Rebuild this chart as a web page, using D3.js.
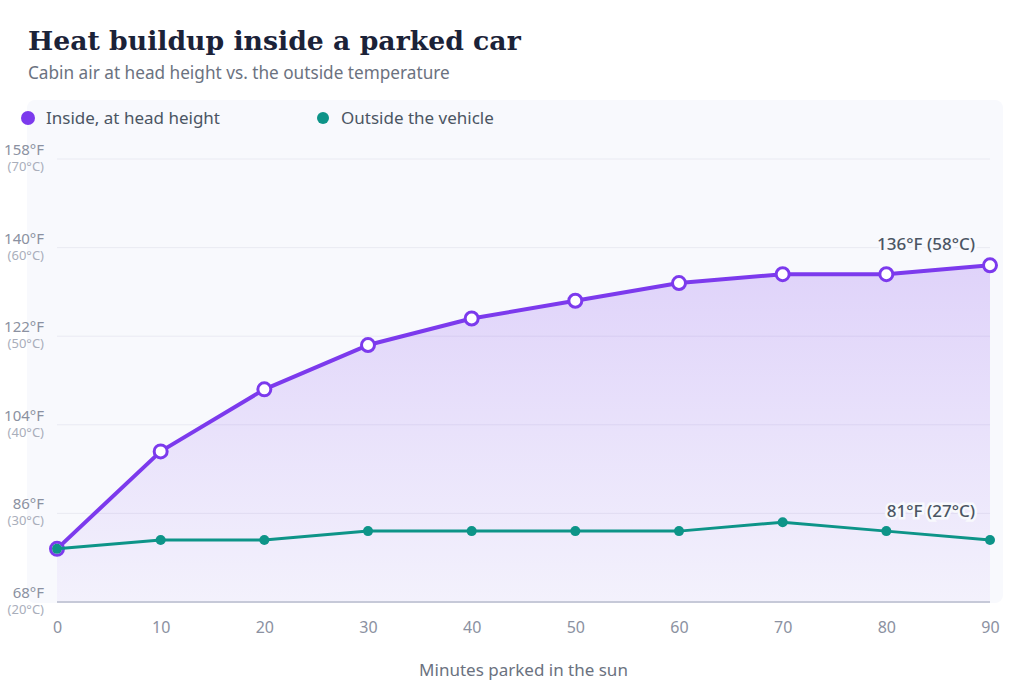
<!DOCTYPE html>
<html>
<head>
<meta charset="utf-8">
<script src="https://cdn.jsdelivr.net/npm/d3@7"></script>
<style>
  body { margin: 0; background: #fff; }
  svg { display: block; font-family: "Noto Sans", "Open Sans", sans-serif; }
</style>
</head>
<body>
<svg id="chart" width="1024" height="693"></svg>
<script>
// minutes parked
const minutes = [0, 10, 20, 30, 40, 50, 60, 70, 80, 90];
// temperatures in °C
const insideC = [26, 37, 44, 49, 52, 54, 56, 57, 57, 58];
const outsideC = [26, 27, 27, 28, 28, 28, 28, 29, 28, 27];
// y ticks in °C
const tickC = [20, 30, 40, 50, 60, 70];

const toF = c => c * 9 / 5 + 32;

const margin = {top: 159, right: 34, bottom: 91, left: 57},
    width = 1024 - margin.left - margin.right,
    height = 693 - margin.top - margin.bottom;

const svg = d3.select("#chart");

// panel background
svg.append("rect")
    .attr("x", 27).attr("y", 100)
    .attr("width", 976).attr("height", 503)
    .attr("rx", 8)
    .attr("fill", "#f8f9fd");

// title + subtitle
svg.append("text")
    .attr("x", 28).attr("y", 50)
    .attr("font-family", "'DejaVu Serif', serif")
    .attr("font-weight", "bold")
    .attr("font-size", 26.7)
    .attr("fill", "#1b2238")
    .text("Heat buildup inside a parked car");

svg.append("text")
    .attr("x", 28).attr("y", 79)
    .attr("font-size", 17.2)
    .attr("fill", "#6b7280")
    .text("Cabin air at head height vs. the outside temperature");

// legend
const legend = [
    {label: "Inside, at head height", color: "#7c3aed", x: 28, r: 7},
    {label: "Outside the vehicle", color: "#0d9488", x: 323, r: 6}
];
legend.forEach(l => {
    svg.append("circle").attr("cx", l.x).attr("cy", 118).attr("r", l.r).attr("fill", l.color);
    svg.append("text")
        .attr("x", l.x + 18).attr("y", 124)
        .attr("font-size", 17)
        .attr("fill", "#4b5563")
        .text(l.label);
});

const g = svg.append("g")
    .attr("transform", `translate(${margin.left},${margin.top})`);

const x = d3.scaleLinear().domain([0, 90]).range([0, width]);
const y = d3.scaleLinear().domain([toF(20), toF(70)]).range([height, 0]);

// gradient for area
const defs = svg.append("defs");
const grad = defs.append("linearGradient")
    .attr("id", "areaGrad")
    .attr("x1", 0).attr("y1", 0).attr("x2", 0).attr("y2", 1);
grad.append("stop").attr("offset", "0%").attr("stop-color", "#7c3aed").attr("stop-opacity", 0.2);
grad.append("stop").attr("offset", "100%").attr("stop-color", "#7c3aed").attr("stop-opacity", 0.04);

// gridlines
g.selectAll(".grid")
    .data(tickC.slice(1))
    .join("line")
    .attr("class", "grid")
    .attr("x1", 0).attr("x2", width)
    .attr("y1", d => y(toF(d))).attr("y2", d => y(toF(d)))
    .attr("stroke", "#e9eaf2")
    .attr("stroke-width", 1);

const inside = minutes.map((m, i) => ({m, f: toF(insideC[i])}));
const outside = minutes.map((m, i) => ({m, f: toF(outsideC[i])}));

// area under inside line
g.append("path")
    .datum(inside)
    .attr("fill", "url(#areaGrad)")
    .attr("d", d3.area().x(d => x(d.m)).y0(height).y1(d => y(d.f)));

// baseline
g.append("line")
    .attr("x1", 0).attr("x2", width)
    .attr("y1", height).attr("y2", height)
    .attr("stroke", "#c6c9d8")
    .attr("stroke-width", 2);

// y tick labels
const yt = g.selectAll(".ytick")
    .data(tickC)
    .join("g")
    .attr("class", "ytick")
    .attr("transform", d => `translate(-13,${y(toF(d))})`);
yt.append("text")
    .attr("text-anchor", "end")
    .attr("y", -4)
    .attr("font-size", 15)
    .attr("fill", "#8b91a1")
    .text(d => Math.round(toF(d)) + "°F");
yt.append("text")
    .attr("text-anchor", "end")
    .attr("y", 12)
    .attr("font-size", 13)
    .attr("fill", "#a9aebb")
    .text(d => "(" + d + "°C)");

// x axis
const xAxis = g.append("g")
    .attr("transform", `translate(0,${height})`)
    .call(d3.axisBottom(x).tickValues(minutes).tickSize(0).tickPadding(20));
xAxis.select(".domain").remove();
xAxis.selectAll("text")
    .attr("font-size", 16)
    .attr("font-family", "'Noto Sans', sans-serif")
    .attr("fill", "#8b91a1");

svg.append("text")
    .attr("x", margin.left + width / 2).attr("y", 676)
    .attr("text-anchor", "middle")
    .attr("font-size", 17)
    .attr("fill", "#6b7280")
    .text("Minutes parked in the sun");

// lines
const line = d3.line().x(d => x(d.m)).y(d => y(d.f));

g.append("path")
    .datum(inside)
    .attr("fill", "none")
    .attr("stroke", "#7c3aed")
    .attr("stroke-width", 4)
    .attr("stroke-linejoin", "round")
    .attr("d", line);

g.selectAll(".inDot")
    .data(inside)
    .join("circle")
    .attr("class", "inDot")
    .attr("cx", d => x(d.m)).attr("cy", d => y(d.f))
    .attr("r", 6.5)
    .attr("fill", "#fff")
    .attr("stroke", "#7c3aed")
    .attr("stroke-width", 3);

g.append("path")
    .datum(outside)
    .attr("fill", "none")
    .attr("stroke", "#0d9488")
    .attr("stroke-width", 3)
    .attr("d", line);

g.selectAll(".outDot")
    .data(outside)
    .join("circle")
    .attr("class", "outDot")
    .attr("cx", d => x(d.m)).attr("cy", d => y(d.f))
    .attr("r", 5)
    .attr("fill", "#0d9488");

// end labels
const last = minutes.length - 1;
const labels = [
    {text: `${Math.round(toF(insideC[last]))}°F (${insideC[last]}°C)`, f: toF(insideC[last]), dy: -15},
    {text: `${Math.round(toF(outsideC[last]))}°F (${outsideC[last]}°C)`, f: toF(outsideC[last]), dy: -23}
];
labels.forEach(l => {
    g.append("text")
        .attr("x", x(90) - 15)
        .attr("y", y(l.f) + l.dy)
        .attr("text-anchor", "end")
        .attr("font-size", 17)
        .attr("font-weight", 500)
        .attr("fill", "#4b5563")
        .attr("stroke", "#f8f9fd")
        .attr("stroke-width", 5)
        .attr("paint-order", "stroke")
        .text(l.text);
});
</script>
</body>
</html>
